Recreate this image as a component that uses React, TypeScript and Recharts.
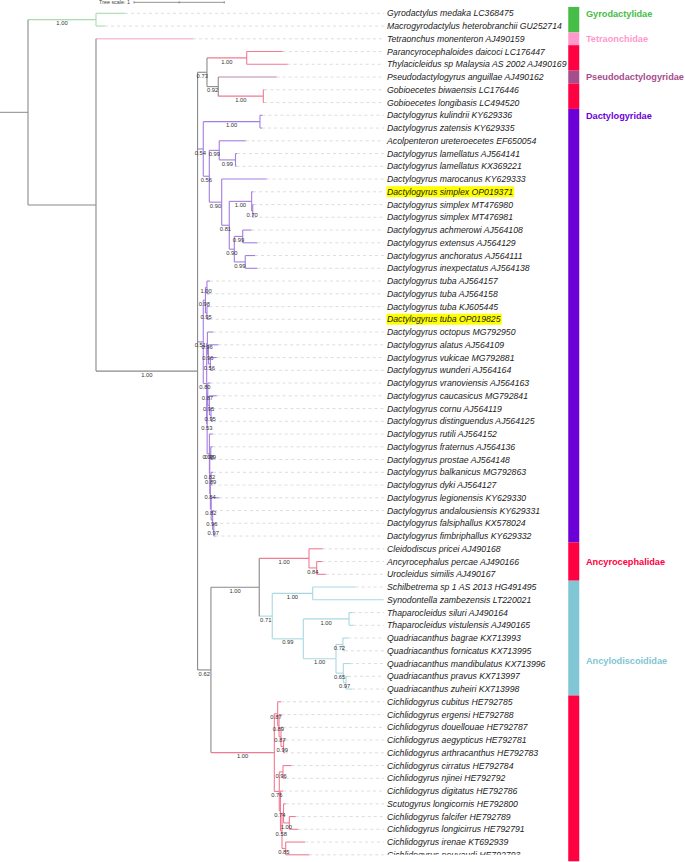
import React, { useLayoutEffect, useRef, useState } from 'react';
import { ScatterChart, Scatter, XAxis, YAxis, ReferenceLine, ReferenceArea } from 'recharts';

const FONT = '"Liberation Sans", Arial, sans-serif';

// tip labels, top to bottom
const leafNames = [
  'Gyrodactylus medaka LC368475',
  'Macrogyrodactylus heterobranchii GU252714',
  'Tetraonchus monenteron AJ490159',
  'Parancyrocephaloides daicoci LC176447',
  'Thylacicleidus sp Malaysia AS 2002 AJ490169',
  'Pseudodactylogyrus anguillae AJ490162',
  'Gobioecetes biwaensis LC176446',
  'Gobioecetes longibasis LC494520',
  'Dactylogyrus kulindrii KY629336',
  'Dactylogyrus zatensis KY629335',
  'Acolpenteron ureteroecetes EF650054',
  'Dactylogyrus lamellatus AJ564141',
  'Dactylogyrus lamellatus KX369221',
  'Dactylogyrus marocanus KY629333',
  'Dactylogyrus simplex OP019371',
  'Dactylogyrus simplex MT476980',
  'Dactylogyrus simplex MT476981',
  'Dactylogyrus achmerowi AJ564108',
  'Dactylogyrus extensus AJ564129',
  'Dactylogyrus anchoratus AJ564111',
  'Dactylogyrus inexpectatus AJ564138',
  'Dactylogyrus tuba AJ564157',
  'Dactylogyrus tuba AJ564158',
  'Dactylogyrus tuba KJ605445',
  'Dactylogyrus tuba OP019825',
  'Dactylogyrus octopus MG792950',
  'Dactylogyrus alatus AJ564109',
  'Dactylogyrus vukicae MG792881',
  'Dactylogyrus wunderi AJ564164',
  'Dactylogyrus vranoviensis AJ564163',
  'Dactylogyrus caucasicus MG792841',
  'Dactylogyrus cornu AJ564119',
  'Dactylogyrus distinguendus AJ564125',
  'Dactylogyrus rutili AJ564152',
  'Dactylogyrus fraternus AJ564136',
  'Dactylogyrus prostae AJ564148',
  'Dactylogyrus balkanicus MG792863',
  'Dactylogyrus dyki AJ564127',
  'Dactylogyrus legionensis KY629330',
  'Dactylogyrus andalousiensis KY629331',
  'Dactylogyrus falsiphallus KX578024',
  'Dactylogyrus fimbriphallus KY629332',
  'Cleidodiscus pricei AJ490168',
  'Ancyrocephalus percae AJ490166',
  'Urocleidus similis AJ490167',
  'Schilbetrema sp 1 AS 2013 HG491495',
  'Synodontella zambezensis LT220021',
  'Thaparocleidus siluri AJ490164',
  'Thaparocleidus vistulensis AJ490165',
  'Quadriacanthus bagrae KX713993',
  'Quadriacanthus fornicatus KX713995',
  'Quadriacanthus mandibulatus KX713996',
  'Quadriacanthus pravus KX713997',
  'Quadriacanthus zuheiri KX713998',
  'Cichlidogyrus cubitus HE792785',
  'Cichlidogyrus ergensi HE792788',
  'Cichlidogyrus douellouae HE792787',
  'Cichlidogyrus aegypticus HE792781',
  'Cichlidogyrus arthracanthus HE792783',
  'Cichlidogyrus cirratus HE792784',
  'Cichlidogyrus njinei HE792792',
  'Cichlidogyrus digitatus HE792786',
  'Scutogyrus longicornis HE792800',
  'Cichlidogyrus falcifer HE792789',
  'Cichlidogyrus longicirrus HE792791',
  'Cichlidogyrus irenae KT692939',
  'Cichlidogyrus pouyaudi HE792793',
];

// distance of each tip from the root (tree scale units)
const leafDepth = [
  1.074, 0.853, 1.827, 2.821, 2.876, 2.754, 2.619, 2.619, 2.597, 2.591,
  2.411, 2.315, 2.309, 2.643, 2.492, 2.497, 2.497, 2.477, 2.539, 2.514,
  2.539, 2.016, 2.010, 2.010, 2.013, 2.052, 2.107, 2.090, 2.049, 2.021,
  2.090, 2.043, 2.049, 2.045, 2.045, 2.052, 2.049, 2.043, 2.118, 2.060,
  2.065, 2.076, 3.264, 3.259, 3.297, 3.629, 3.935, 3.596, 3.602, 3.547,
  3.511, 3.566, 3.544, 3.588, 2.802, 2.807, 2.824, 2.852, 2.846, 2.920,
  2.857, 2.824, 2.854, 2.965, 2.993, 3.068, 3.115,
];

const leafParent = [
  'G1', 'G1', 'A', 'C1', 'C1', 'C2', 'C3', 'C3', 'Ga', 'Ga',
  'Gc', 'Ge', 'Ge', 'Gd', 'Gg', 'Gi', 'Gi', 'Gj', 'Gj', 'Gk',
  'Gk', 'T1', 'T1', 'T2', 'T2', 'H3', 'H3a', 'H3b', 'H3b', 'H5',
  'H5a', 'H5b', 'H5b', 'H6', 'H6b', 'H6b', 'H6d', 'H6d', 'H6e', 'H6f',
  'H6g', 'H6g', 'An', 'An2', 'An2', 'S', 'S', 'Th', 'Th', 'Qa',
  'Qa', 'Qb', 'Qc', 'Qc', 'K1', 'K1a', 'K1b', 'K1c', 'K1c', 'K3',
  'K3', 'K4', 'Z1', 'FL', 'FL', 'IP', 'IP',
];

const leafClade = [
  'gyro', 'gyro', 'tetra', 'ancy', 'ancy', 'pseudo', 'ancy', 'ancy',
  ...Array(34).fill('dacty'),
  'ancy', 'ancy', 'ancy',
  ...Array(9).fill('ancylo'),
  ...Array(13).fill('ancy'),
];

const highlighted = ['Dactylogyrus simplex OP019371', 'Dactylogyrus tuba OP019825'];

// internal nodes: id, parent, depth, support, clade
const nodes: [string, string, number, string, string][] = [
  ['R', '', 0, '', 'grey'],
  ['G1', 'R', 0.753, '1.00', 'gyro'],
  ['A', 'R', 0.753, '', 'grey'],
  ['B', 'A', 1.878, '1.00', 'grey'],
  ['C', 'B', 1.982, '0.73', 'grey'],
  ['C1', 'C', 2.422, '1.00', 'ancy'],
  ['C2', 'C', 2.107, '0.92', 'grey'],
  ['C3', 'C2', 2.606, '1.00', 'ancy'],
  ['G', 'B', 1.941, '0.54', 'dacty'],
  ['Ga', 'G', 2.569, '1.00', 'dacty'],
  ['Gb', 'G', 2.008, '0.56', 'dacty'],
  ['Gc', 'Gb', 2.118, '0.99', 'dacty'],
  ['Ge', 'Gc', 2.298, '0.99', 'dacty'],
  ['Gd', 'Gb', 2.145, '0.90', 'dacty'],
  ['Gf', 'Gd', 2.229, '0.81', 'dacty'],
  ['Gg', 'Gf', 2.477, '1.00', 'dacty'],
  ['Gi', 'Gg', 2.489, '0.70', 'dacty'],
  ['Gh', 'Gf', 2.285, '0.90', 'dacty'],
  ['Gj', 'Gh', 2.378, '0.99', 'dacty'],
  ['Gk', 'Gh', 2.406, '0.99', 'dacty'],
  ['H', 'B', 1.941, '0.51', 'dacty'],
  ['T', 'H', 1.965, '0.98', 'dacty'],
  ['T1', 'T', 1.982, '1.00', 'dacty'],
  ['T2', 'T', 1.982, '0.95', 'dacty'],
  ['H2', 'H', 1.979, '0.80', 'dacty'],
  ['H3', 'H2', 1.987, '0.96', 'dacty'],
  ['H3a', 'H3', 1.998, '0.96', 'dacty'],
  ['H3b', 'H3a', 2.020, '0.56', 'dacty'],
  ['H4', 'H2', 1.984, '0.53', 'dacty'],
  ['H5', 'H4', 1.991, '0.87', 'dacty'],
  ['H5a', 'H5', 2.009, '0.95', 'dacty'],
  ['H5b', 'H5a', 2.027, '0.95', 'dacty'],
  ['H6', 'H4', 2.009, '0.98', 'dacty'],
  ['H6a', 'H6', 2.013, '0.82', 'dacty'],
  ['H6b', 'H6a', 2.024, '0.99', 'dacty'],
  ['H6c', 'H6a', 2.020, '0.84', 'dacty'],
  ['H6d', 'H6c', 2.027, '0.89', 'dacty'],
  ['H6e', 'H6c', 2.029, '0.82', 'dacty'],
  ['H6f', 'H6e', 2.045, '0.96', 'dacty'],
  ['H6g', 'H6f', 2.058, '0.97', 'dacty'],
  ['E', 'B', 2.026, '0.62', 'grey'],
  ['F', 'E', 2.561, '1.00', 'grey'],
  ['An', 'F', 3.112, '1.00', 'ancy'],
  ['An2', 'An', 3.197, '0.84', 'ancy'],
  ['Al', 'F', 2.705, '0.71', 'ancylo'],
  ['S', 'Al', 3.153, '1.00', 'ancylo'],
  ['Q', 'Al', 3.049, '0.99', 'ancylo'],
  ['Th', 'Q', 3.555, '1.00', 'ancylo'],
  ['Qd', 'Q', 3.411, '1.00', 'ancylo'],
  ['Qa', 'Qd', 3.488, '0.72', 'ancylo'],
  ['Qb', 'Qd', 3.492, '0.65', 'ancylo'],
  ['Qc', 'Qb', 3.522, '0.97', 'ancylo'],
  ['K', 'E', 2.728, '1.00', 'ancy'],
  ['K1', 'K', 2.765, '0.87', 'ancy'],
  ['K1a', 'K1', 2.780, '0.89', 'ancy'],
  ['K1b', 'K1a', 2.802, '0.87', 'ancy'],
  ['K1c', 'K1b', 2.830, '0.99', 'ancy'],
  ['K2', 'K', 2.783, '0.76', 'ancy'],
  ['K3', 'K2', 2.824, '0.96', 'ancy'],
  ['K4', 'K2', 2.796, '0.74', 'ancy'],
  ['Z', 'K4', 2.813, '0.58', 'ancy'],
  ['Z1', 'Z', 2.830, '', 'ancy'],
  ['FL', 'Z1', 2.894, '1.00', 'ancy'],
  ['IP', 'Z', 2.854, '0.85', 'ancy'],
];

// family colour strip: clade, first tip, last tip
const familyBands: [string, number, number][] = [
  ['gyro', 0, 1], ['tetra', 2, 2], ['ancy', 3, 4], ['pseudo', 5, 5], ['ancy', 6, 7],
  ['dacty', 8, 41], ['ancy', 42, 44], ['ancylo', 45, 53], ['ancy', 54, 66],
];
const familyNames: [string, string, number][] = [
  ['Gyrodactylidae', 'gyro', 0],
  ['Tetraonchidae', 'tetra', 2],
  ['Pseudodactylogyridae', 'pseudo', 5],
  ['Dactylogyridae', 'dacty', 8],
  ['Ancyrocephalidae', 'ancy', 43],
  ['Ancylodiscoididae', 'ancylo', 50.8],
];

const branchColor: Record<string, string> = {
  grey: '#8a8a8a', gyro: '#a9dca9', tetra: '#f7bfda', ancy: '#f27a93',
  pseudo: '#b98aae', dacty: '#a47de0', ancylo: '#a9d8e1',
};
const familyColor: Record<string, string> = {
  gyro: '#46bd46', tetra: '#ff99cc', ancy: '#ff0040', pseudo: '#a64d8d',
  dacty: '#6b00d7', ancylo: '#80c6d5',
};

const X_MIN = -0.31;
const X_MAX = 7.276;
const LABEL_X = 3.976;
const LEADER_END = 3.943;
const BAND_X = [5.983, 6.105];
const FAMILY_X = 6.179;

// layout of the tree from the arrays above
const depthOf: Record<string, number> = {};
const parentOf: Record<string, string> = {};
const cladeOf: Record<string, string> = {};
const kids: Record<string, string[]> = {};
nodes.forEach(([id, parent, depth, , clade]) => {
  depthOf[id] = depth;
  parentOf[id] = parent;
  cladeOf[id] = clade;
  if (parent) (kids[parent] = kids[parent] || []).push(id);
});
leafNames.forEach((_, i) => {
  const id = 'leaf' + i;
  depthOf[id] = leafDepth[i];
  parentOf[id] = leafParent[i];
  cladeOf[id] = leafClade[i];
  (kids[leafParent[i]] = kids[leafParent[i]] || []).push(id);
});
const rowOf: Record<string, number> = {};
const span: Record<string, [number, number]> = {};
function place(id: string): number {
  if (id.startsWith('leaf')) {
    rowOf[id] = Number(id.slice(4));
    return rowOf[id];
  }
  const ys = kids[id].map(place);
  const lo = Math.min(...ys);
  const hi = Math.max(...ys);
  span[id] = [lo, hi];
  rowOf[id] = (lo + hi) / 2;
  return rowOf[id];
}
place('R');

const allIds = Object.keys(depthOf);

const supportPoints = nodes
  .filter(([id, , , support]) => support && parentOf[id])
  .map(([id, parent, depth, support]) => ({ x: (depthOf[parent] + depth) / 2, y: rowOf[id], support }));

const leafPoints = leafNames.map((name, i) => ({ x: LABEL_X, y: i, name, marked: highlighted.includes(name) }));
const familyPoints = familyNames.map(([name, clade, row]) => ({ x: FAMILY_X, y: row, name, clade }));

function LeafLabel(props: any) {
  const { cx, cy, payload } = props;
  const ref = useRef<SVGTextElement>(null);
  const [w, setW] = useState(0);
  useLayoutEffect(() => {
    if (payload.marked && ref.current) setW(ref.current.getBBox().width);
  }, [payload.marked]);
  return (
    <g>
      {payload.marked && w > 0 && (
        <rect x={cx - 0.5} y={cy - 5.6} width={w + 1.5} height={11} fill="#ffff00" />
      )}
      <text ref={ref} x={cx} y={cy + 3} fontSize={8.7} fontStyle="italic" fill="#222" fontFamily={FONT}>
        {payload.name}
      </text>
    </g>
  );
}

export default function App() {
  return (
    <div style={{ width: 685, height: 862, background: '#fff' }}>
      <style>{'body{margin:0}'}</style>
      <ScatterChart width={685} height={862} margin={{ top: 0, right: 0, bottom: 7.2, left: 0 }}>
        <XAxis type="number" dataKey="x" domain={[X_MIN, X_MAX]} allowDataOverflow hide />
        <YAxis type="number" dataKey="y" domain={[-1.043, 66]} reversed allowDataOverflow hide />

        {familyBands.map(([clade, a, b], i) => (
          <ReferenceArea
            key={'band' + i}
            x1={BAND_X[0]}
            x2={BAND_X[1]}
            y1={a - 0.5}
            y2={b + 0.5}
            fill={familyColor[clade]}
            fillOpacity={1}
            stroke="none"
            ifOverflow="visible"
          />
        ))}

        {leafNames.map((_, i) => (
          <ReferenceLine
            key={'lead' + i}
            segment={[{ x: leafDepth[i], y: i }, { x: LEADER_END, y: i }]}
            stroke="#d4d4d4"
            strokeWidth={0.8}
            strokeDasharray="3 3"
            ifOverflow="visible"
          />
        ))}

        <ReferenceLine
          segment={[{ x: X_MIN, y: rowOf['R'] }, { x: 0, y: rowOf['R'] }]}
          stroke={branchColor.grey}
          strokeWidth={1}
          ifOverflow="visible"
        />
        {allIds
          .filter((id) => parentOf[id])
          .map((id) => (
            <ReferenceLine
              key={'h' + id}
              segment={[{ x: depthOf[parentOf[id]], y: rowOf[id] }, { x: depthOf[id], y: rowOf[id] }]}
              stroke={branchColor[cladeOf[id]]}
              strokeWidth={cladeOf[id] === 'tetra' ? 1.6 : 1.1}
              ifOverflow="visible"
            />
          ))}
        {nodes.map(([id]) => (
          <ReferenceLine
            key={'v' + id}
            segment={[{ x: depthOf[id], y: span[id][0] }, { x: depthOf[id], y: span[id][1] }]}
            stroke={branchColor[cladeOf[id]]}
            strokeWidth={1.1}
            ifOverflow="visible"
          />
        ))}

        {/* tree scale bar */}
        <ReferenceLine segment={[{ x: 1.174, y: -0.86 }, { x: 2.174, y: -0.86 }]} stroke="#777" strokeWidth={0.8} ifOverflow="visible" />
        {[1.174, 1.674, 2.174].map((x) => (
          <ReferenceLine
            key={'tick' + x}
            segment={[{ x, y: -0.95 }, { x, y: -0.77 }]}
            stroke="#777"
            strokeWidth={0.8}
            ifOverflow="visible"
          />
        ))}
        <Scatter
          data={[{ x: 1.13, y: -0.86 }]}
          isAnimationActive={false}
          shape={(p: any) => (
            <text x={p.cx} y={p.cy + 2} fontSize={5.4} textAnchor="end" fill="#444" fontFamily={FONT}>
              Tree scale: 1
            </text>
          )}
        />

        <Scatter
          data={supportPoints}
          isAnimationActive={false}
          shape={(p: any) => (
            <text x={p.cx} y={p.cy + 5.6} fontSize={5.8} textAnchor="middle" fill="#333" fontFamily={FONT}>
              {p.payload.support}
            </text>
          )}
        />
        <Scatter data={leafPoints} isAnimationActive={false} shape={(p: any) => <LeafLabel {...p} />} />
        <Scatter
          data={familyPoints}
          isAnimationActive={false}
          shape={(p: any) => (
            <text
              x={p.cx}
              y={p.cy + 3.3}
              fontSize={9.2}
              fontWeight="bold"
              fill={familyColor[p.payload.clade]}
              fontFamily={FONT}
            >
              {p.payload.name}
            </text>
          )}
        />
      </ScatterChart>
    </div>
  );
}
